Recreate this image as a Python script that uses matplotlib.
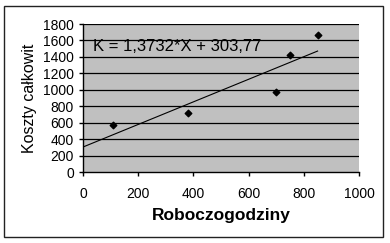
import matplotlib.pyplot as plt
from matplotlib.patches import Rectangle

# man-hours vs total cost
roboczogodziny = [110, 380, 700, 750, 850]
koszty = [570, 720, 975, 1420, 1670]

slope = 1.3732
intercept = 303.77
trend_x = [0, 850]

x_ticks = [0, 200, 400, 600, 800, 1000]
y_ticks = [0, 200, 400, 600, 800, 1000, 1200, 1400, 1600, 1800]

plt.rcParams["font.family"] = ["Liberation Sans", "DejaVu Sans"]

fig = plt.figure(figsize=(3.9, 2.43), dpi=100)
ax = fig.add_axes([83 / 390, 1 - 172 / 243, 276 / 390, 148 / 243])

# outer chart border
fig.patches.append(Rectangle((4 / 390, 6 / 243), 379 / 390, 231 / 243,
                             transform=fig.transFigure, fill=False,
                             edgecolor="#222222", linewidth=1.0))

ax.set_facecolor("#c0c0c0")
ax.set_xlim(0, 1000)
ax.set_ylim(0, 1800)
ax.set_xticks(x_ticks)
ax.set_yticks(y_ticks)
ax.tick_params(labelsize=10, length=3, width=1, direction="out", colors="black")
ax.tick_params(axis="x", pad=8)
for y in y_ticks[1:]:
    ax.axhline(y, color="black", linewidth=0.9, zorder=1)
for side in ["top", "right"]:
    ax.spines[side].set_visible(False)
ax.spines["left"].set_linewidth(1.0)
ax.spines["bottom"].set_linewidth(1.0)

ax.plot(trend_x, [slope * x + intercept for x in trend_x],
        color="black", linewidth=0.8, zorder=2)
ax.scatter(roboczogodziny, koszty, marker="D", s=11, color="black", zorder=3)

ax.text(35, 1440, "K = 1,3732*X + 303,77", fontsize=12, va="bottom", ha="left")

ax.set_xlabel("Roboczogodziny", fontsize=12.5, fontweight="bold", labelpad=5)
ax.set_ylabel("Koszty całkowit", fontsize=11.5, labelpad=4)

fig.savefig("out.png", dpi=100)
